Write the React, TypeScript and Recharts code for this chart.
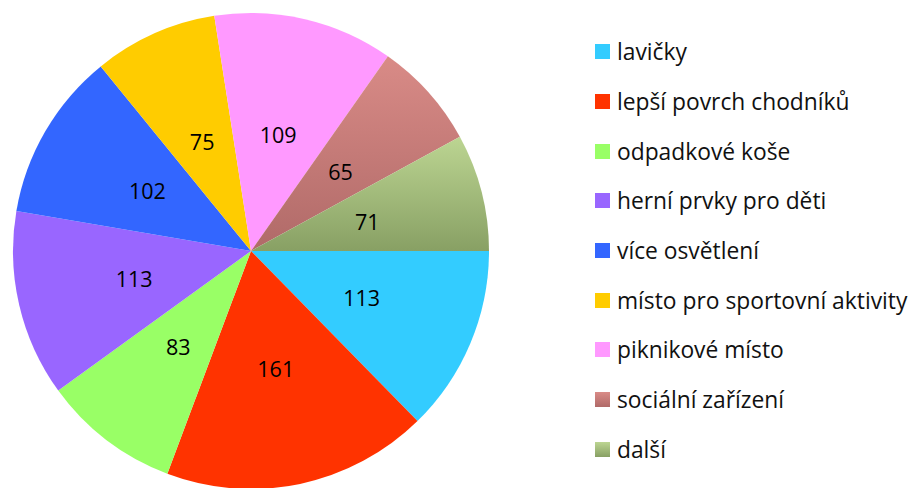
import React from 'react';
import { PieChart, Pie, Cell, Legend } from 'recharts';

const categories = [
  'lavičky',
  'lepší povrch chodníků',
  'odpadkové koše',
  'herní prvky pro děti',
  'více osvětlení',
  'místo pro sportovní aktivity',
  'piknikové místo',
  'sociální zařízení',
  'další',
];
const counts = [113, 161, 83, 113, 102, 75, 109, 65, 71];
const fills = [
  '#33ccff',
  '#ff3300',
  '#99ff66',
  '#9966ff',
  '#3366ff',
  '#ffcc00',
  '#ff99ff',
  'url(#gradSoc)',
  'url(#gradDalsi)',
];

const data = categories.map((name, i) => ({ name, value: counts[i] }));

const RAD = Math.PI / 180;
const FONT = "'Open Sans', 'Noto Sans', sans-serif";

const renderLabel = (props: any) => {
  const { cx, cy, midAngle, value } = props;
  const r = 120;
  const x = cx + r * Math.cos(-midAngle * RAD);
  const y = cy + r * Math.sin(-midAngle * RAD);
  return (
    <text x={x} y={y} fill="#000" fontSize={21.5} fontFamily={FONT} textAnchor="middle" dominantBaseline="central">
      {value}
    </text>
  );
};

const legendSwatch: Record<number, string> = {
  7: 'linear-gradient(#d98b87, #b06a68)',
  8: 'linear-gradient(#bcd592, #88a064)',
};

const renderLegend = () => (
  <div style={{ fontFamily: FONT, fontSize: 22.8, color: '#111' }}>
    {categories.map((name, i) => (
      <div key={name} style={{ height: 49.7, display: 'flex', alignItems: 'center' }}>
        <span
          style={{
            width: 15,
            height: 15,
            marginRight: 7,
            background: legendSwatch[i] ?? fills[i],
            display: 'inline-block',
            flexShrink: 0,
          }}
        />
        <span style={{ whiteSpace: 'nowrap' }}>{name}</span>
      </div>
    ))}
  </div>
);

export default function App() {
  return (
    <div style={{ position: 'absolute', left: 0, top: 0, width: 917, height: 488, background: '#fff' }}>
      <PieChart width={917} height={488} margin={{ top: 0, right: 0, bottom: 0, left: 0 }}>
        <defs>
          <linearGradient id="gradSoc" x1="0" y1="0" x2="0" y2="1">
            <stop offset="0%" stopColor="#d98b87" />
            <stop offset="100%" stopColor="#b06a68" />
          </linearGradient>
          <linearGradient id="gradDalsi" x1="0" y1="0" x2="0" y2="1">
            <stop offset="0%" stopColor="#bcd592" />
            <stop offset="100%" stopColor="#88a064" />
          </linearGradient>
        </defs>
        <Pie
          data={data}
          dataKey="value"
          nameKey="name"
          cx={251}
          cy={251}
          outerRadius={238}
          startAngle={0}
          endAngle={-360}
          stroke="none"
          label={renderLabel}
          labelLine={false}
          isAnimationActive={false}
        >
          {data.map((d, i) => (
            <Cell key={d.name} fill={fills[i]} />
          ))}
        </Pie>
        <Legend
          layout="horizontal"
          align="left"
          verticalAlign="bottom"
          content={renderLegend}
          wrapperStyle={{ left: 595, top: 27, bottom: 'auto', width: 322 }}
        />
      </PieChart>
    </div>
  );
}
